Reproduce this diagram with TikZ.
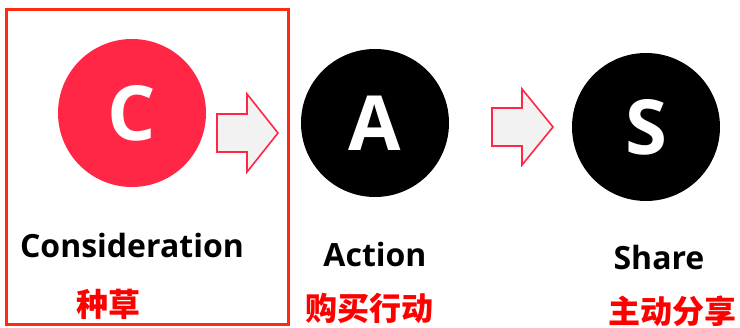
\documentclass[tikz,border=0pt]{standalone}
\usepackage{fontspec}
\setmainfont{Open Sans}
\newfontfamily\cjk{Noto Sans CJK SC}
\definecolor{crimson}{HTML}{FF2646}
\definecolor{boxred}{HTML}{FF2A12}
\definecolor{arrowfill}{HTML}{F2F2F2}
\begin{document}
\begin{tikzpicture}[x=1pt,y=-1pt,
  disc/.style={circle,minimum size=148pt,inner sep=0pt,text=white,font=\fontsize{76}{76}\selectfont\bfseries},
  lbl/.style={inner sep=0pt,font=\fontsize{32}{32}\selectfont\bfseries},
  cn/.style={inner sep=0pt,text=red,font=\cjk\fontsize{32}{32}\selectfont\bfseries},
  fatarrow/.style={draw=crimson,fill=arrowfill,line width=1.6pt,line join=miter}]
\useasboundingbox (0,0) rectangle (740,328);
\draw[boxred,line width=3pt] (6,10) rectangle (288,325);
\node[disc,fill=crimson] (c) at (132,113) {C};
\node[disc,fill=black] (a) at (375,123) {A};
\node[disc,fill=black] (s) at (646,127) {S};
\node[lbl] (cl) at (132,246) {Consideration};
\node[lbl] (al) at (375,255) {Action};
\node[lbl] (sl) at (659,258) {Share};
\node[cn] (cc) at (108,304) {种草};
\node[cn] (ac) at (369,308) {购买行动};
\node[cn] (sc) at (672,311) {主动分享};
\draw[fatarrow] (217,114) -- (247,114) -- (247,94) -- (278,133) -- (247,172) -- (247,152) -- (217,152) -- cycle;
\draw[fatarrow] (492,108) -- (522,108) -- (522,89) -- (553,127) -- (522,165) -- (522,146) -- (492,146) -- cycle;
\end{tikzpicture}
\end{document}
